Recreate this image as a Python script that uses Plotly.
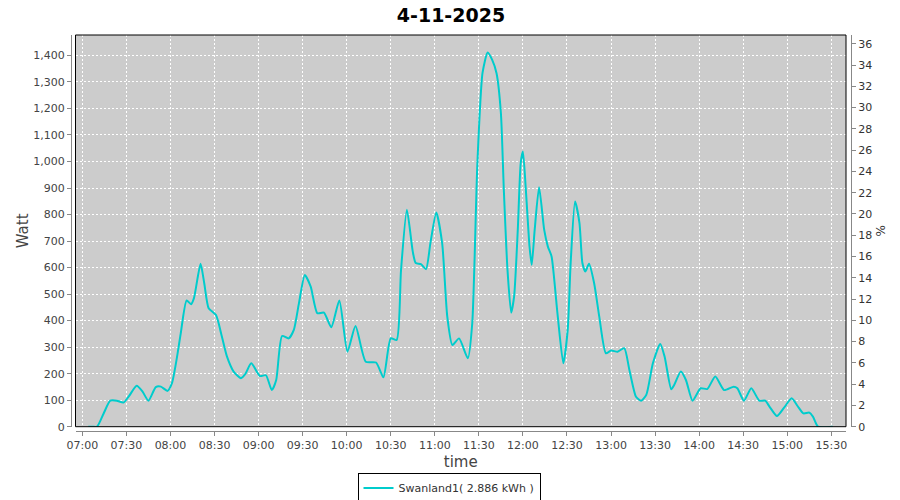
import plotly.graph_objects as go

DATE = "2025-11-04"
TITLE = "4-11-2025"
SERIES_NAME = "Swanland1( 2.886 kWh )"

times = [
    "07:04:00", "07:07:00", "07:10:00", "07:14:30", "07:19:00", "07:23:30", "07:28:00",
    "07:31:30", "07:37:00", "07:41:00", "07:45:00", "07:50:00", "07:53:30", "07:58:00",
    "08:01:00", "08:04:30", "08:07:00", "08:11:00", "08:14:00", "08:16:00", "08:20:30",
    "08:23:00", "08:26:00", "08:31:00", "08:35:00", "08:38:30", "08:43:00", "08:48:00",
    "08:51:00", "08:55:00", "09:01:00", "09:05:00", "09:09:00", "09:12:00", "09:16:00",
    "09:20:30", "09:24:00", "09:27:30", "09:31:30", "09:35:30", "09:40:00", "09:44:30",
    "09:49:30", "09:55:00", "10:00:30", "10:06:00", "10:13:00", "10:20:00", "10:25:00",
    "10:30:00", "10:34:00", "10:37:00", "10:41:00", "10:45:00", "10:47:00", "10:50:30",
    "10:54:00", "10:57:00", "11:01:00", "11:05:00", "11:08:30", "11:12:00", "11:16:30",
    "11:22:30", "11:25:30", "11:29:00", "11:32:30", "11:36:00", "11:39:00", "11:42:00",
    "11:45:00", "11:47:00", "11:49:30", "11:52:00", "11:54:00", "11:56:30", "11:58:30",
    "12:00:00", "12:02:00", "12:04:30", "12:06:00", "12:08:00", "12:11:00", "12:14:30",
    "12:17:00", "12:19:30", "12:23:30", "12:27:30", "12:30:30", "12:32:30", "12:35:30",
    "12:38:30", "12:40:30", "12:42:30", "12:45:00", "12:48:30", "12:52:00", "12:56:30",
    "13:00:00", "13:04:30", "13:09:00", "13:12:30", "13:17:00", "13:20:30", "13:24:00",
    "13:28:30", "13:33:30", "13:36:30", "13:41:00", "13:43:00", "13:47:30", "13:51:00",
    "13:55:30", "14:01:00", "14:05:30", "14:11:00", "14:17:00", "14:23:30", "14:26:00",
    "14:30:30", "14:35:30", "14:41:00", "14:45:00", "14:48:00", "14:53:00", "14:58:00",
    "15:03:00", "15:07:00", "15:11:00", "15:15:00", "15:17:30", "15:21:00", "15:31:00",
]

watts = [
    0, 0, 0, 50, 98, 98, 91,
    113, 154, 132, 98, 149, 151, 135,
    164, 264, 352, 476, 462, 485, 614,
    541, 447, 421, 340, 264, 208, 183,
    199, 239, 191, 194, 138, 176, 342,
    333, 365, 466, 572, 528, 428, 430,
    375, 476, 283, 380, 245, 242, 186,
    333, 327, 591, 818, 660, 617, 613,
    594, 692, 808, 692, 415, 308, 333,
    258, 390, 994, 1334, 1411, 1384, 1334,
    1183, 893, 591, 430, 491, 742, 994,
    1038, 893, 679, 610, 742, 903, 742,
    679, 642, 428, 239, 365, 617, 849,
    768, 617, 585, 614, 541, 415, 277,
    287, 283, 296, 214, 113, 98, 120,
    239, 312, 264, 141, 157, 208, 176,
    98, 145, 142, 189, 138, 151, 145,
    98, 145, 98, 98, 75, 40, 73,
    107, 78, 50, 53, 38, 0, 0,
]

x_vals = [f"{DATE} {t}" for t in times]

fig = go.Figure()
fig.add_trace(go.Scatter(
    x=x_vals, y=watts, mode="lines", name=SERIES_NAME,
    line=dict(color="#00CCCC", width=2, shape="spline", smoothing=0.6),
    hoverinfo="x+y",
))
# empty trace to bind the right-hand percent axis
fig.add_trace(go.Scatter(
    x=[x_vals[0]], y=[None], yaxis="y2", mode="lines",
    showlegend=False, hoverinfo="skip",
))

# paper spans from left axis line (x=71) to right axis line (x=851)
# and from top (35) to x-axis line (431)
L, R, T, B = 71, 851, 35, 431
pw, ph = R - L, B - T
x_dom = [(75.5 - L) / pw, (846 - L) / pw]
y_dom = [(B - 426.7) / ph, 1.0]

tickfont = dict(family="DejaVu Sans", size=11, color="#444444")
axis_title_font = dict(family="DejaVu Sans", size=15, color="#444444")
GRID_DASH = "2px,2px"

fig.update_layout(
    width=900, height=500,
    margin=dict(l=L, r=900 - R, t=T, b=500 - B, autoexpand=False),
    paper_bgcolor="white",
    plot_bgcolor="#CCCCCC",
    font=dict(family="DejaVu Sans", color="#444444"),
    title=dict(text=f"<b>{TITLE}</b>", x=451 / 900, xanchor="center", y=1 - 15 / 500,
               yanchor="middle", font=dict(family="DejaVu Sans", size=19, color="black")),
    xaxis=dict(
        domain=x_dom, type="date", anchor="free", position=0, automargin=False,
        range=[f"{DATE} 06:55:20", f"{DATE} 15:40:00"],
        tick0=f"{DATE} 07:00", dtick=1800000, tickformat="%H:%M",
        showgrid=True, gridcolor="white", griddash=GRID_DASH, gridwidth=1,
        showline=True, linecolor="#888888", linewidth=1,
        ticks="outside", ticklen=4, tickcolor="#888888",
        tickfont=tickfont, zeroline=False,
        title=dict(text="time", font=axis_title_font, standoff=5),
    ),
    yaxis=dict(
        domain=y_dom, anchor="free", position=0, automargin=False,
        range=[0, 1477], dtick=100, tickformat=",d",
        showgrid=True, gridcolor="white", griddash=GRID_DASH, gridwidth=1,
        showline=True, linecolor="#888888", linewidth=1,
        ticks="outside", ticklen=4, tickcolor="#888888",
        tickfont=tickfont, zeroline=False,
        title=dict(text="Watt", font=axis_title_font, standoff=0),
    ),
    yaxis2=dict(
        domain=y_dom, overlaying="y", side="right", anchor="free", position=1,
        automargin=False,
        range=[0, 36.82], dtick=2,
        showgrid=False, showline=True, linecolor="#888888", linewidth=1,
        ticks="outside", ticklen=4, tickcolor="#888888",
        tickfont=dict(family="DejaVu Sans", size=11, color="#333333"), zeroline=False,
        title=dict(text="%", font=dict(family="DejaVu Sans", size=12, color="#333333"), standoff=5),
    ),
    showlegend=True,
    legend=dict(
        orientation="h", xref="container", yref="container",
        x=449 / 900, xanchor="center", y=1 - 488 / 500, yanchor="middle",
        bgcolor="white", bordercolor="black", borderwidth=1,
        font=dict(family="DejaVu Sans", size=11, color="#333333"),
        itemwidth=30, tracegroupgap=0,
    ),
    shapes=[dict(type="rect", xref="x domain", yref="y domain", x0=0, x1=1, y0=0, y1=1,
                 line=dict(color="black", width=1), fillcolor="rgba(0,0,0,0)", layer="above")],
)

fig.write_html("out.html", config={"displayModeBar": False},
               post_script="document.body.style.margin='0';")
